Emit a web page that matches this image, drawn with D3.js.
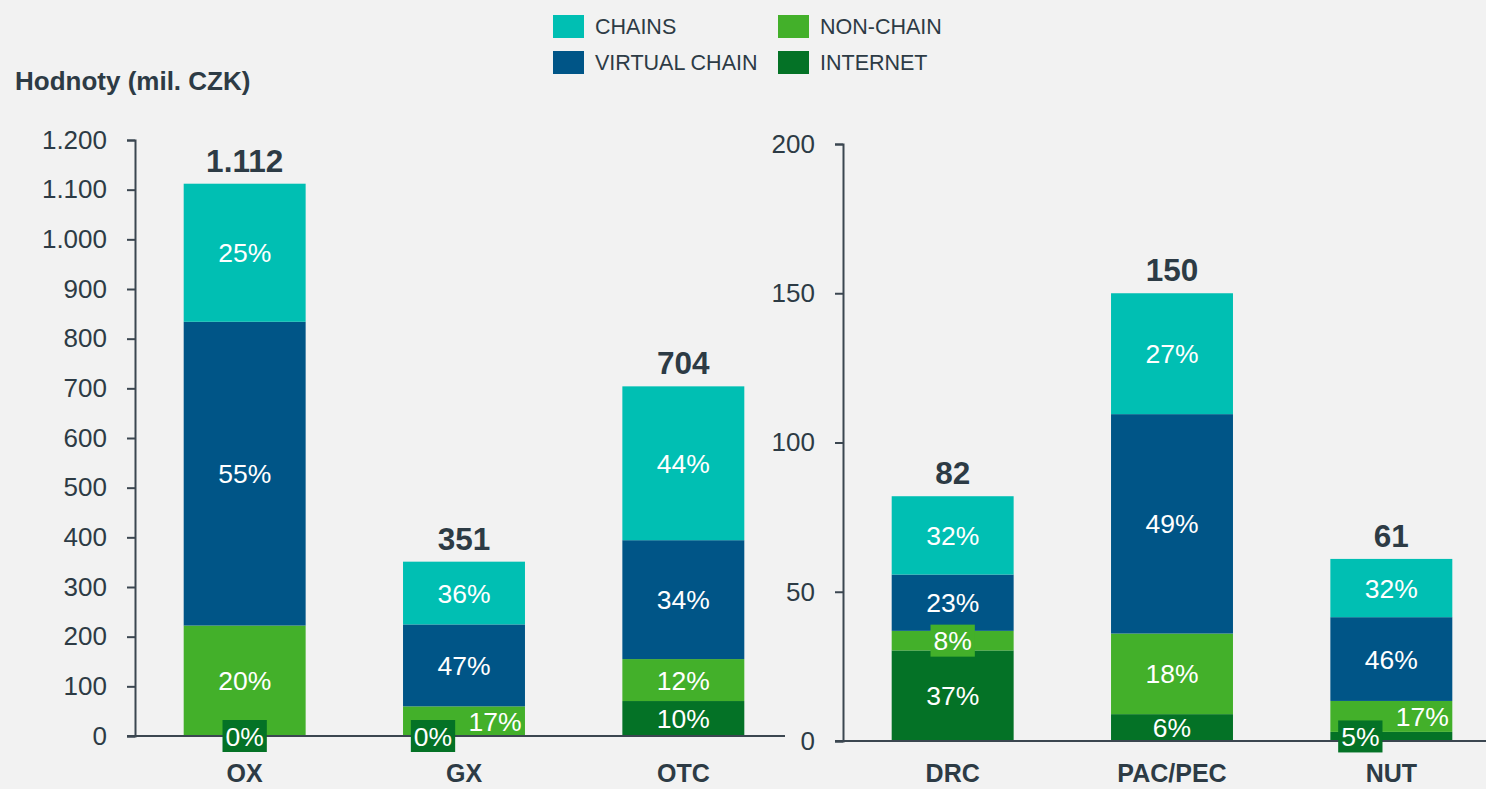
<!DOCTYPE html>
<html>
<head>
<meta charset="utf-8">
<script src="https://cdn.jsdelivr.net/npm/d3@7"></script>
<style>
  body { margin: 0; background: #f2f2f2; }
  svg { display: block; font-family: "Liberation Sans", Arial, sans-serif; }
</style>
</head>
<body>
<div id="chart"></div>
<script>
// categories of the two panels
var leftCats = ["OX", "GX", "OTC"];
var rightCats = ["DRC", "PAC/PEC", "NUT"];

// totals (mil. CZK)
var leftTotals = [1112, 351, 704];
var rightTotals = [82, 150, 61];

// shares in % per series, bottom to top
var internetShare = [0, 0, 10, 37, 6, 5];
var nonChainShare = [20, 17, 12, 8, 18, 17];
var virtualShare = [55, 47, 34, 23, 49, 46];
var chainsShare = [25, 36, 44, 32, 27, 32];

var leftTicks = [0, 100, 200, 300, 400, 500, 600, 700, 800, 900, 1000, 1100, 1200];
var rightTicks = [0, 50, 100, 150, 200];

var seriesKeys = ["internet", "nonchain", "virtual", "chains"];
var seriesNames = { chains: "CHAINS", virtual: "VIRTUAL CHAIN", nonchain: "NON-CHAIN", internet: "INTERNET" };
var colors = { chains: "#00bfb3", virtual: "#005587", nonchain: "#43b02a", internet: "#047226" };
var textColor = "#2d3b45";
var axisColor = "#3b4650";

const W = 1486, H = 789;
const svg = d3.select("#chart").append("svg").attr("width", W).attr("height", H);
svg.append("rect").attr("width", W).attr("height", H).attr("fill", "#f2f2f2");

var fmt = d3.formatLocale({ decimal: ",", thousands: ".", grouping: [3], currency: ["", ""] }).format(",");

function rows(cats, totals, offset) {
  return cats.map(function (c, i) {
    var j = i + offset;
    return {
      cat: c,
      total: totals[i],
      internet: totals[i] * internetShare[j] / 100,
      nonchain: totals[i] * nonChainShare[j] / 100,
      virtual: totals[i] * virtualShare[j] / 100,
      chains: totals[i] * chainsShare[j] / 100,
      share: { internet: internetShare[j], nonchain: nonChainShare[j], virtual: virtualShare[j], chains: chainsShare[j] }
    };
  });
}

function panel(opts) {
  var data = rows(opts.cats, opts.totals, opts.offset);
  var x = d3.scaleBand().domain(opts.cats).range(opts.xRange).padding(0);
  var y = d3.scaleLinear().domain([0, opts.max]).range(opts.yRange);
  var barW = x.bandwidth() * 0.556;
  var g = svg.append("g");

  // y axis
  var yAxis = g.append("g")
    .attr("transform", "translate(" + opts.xRange[0] + ",0)")
    .call(d3.axisLeft(y).tickValues(opts.ticks).tickSize(8).tickPadding(20).tickFormat(fmt));
  yAxis.select(".domain").attr("stroke", axisColor).attr("stroke-width", 2);
  yAxis.selectAll(".tick line").attr("stroke", axisColor).attr("stroke-width", 2);
  yAxis.selectAll(".tick text").attr("fill", textColor).style("font-size", "26px").style("font-family", "Liberation Sans, Arial, sans-serif");

  var stack = d3.stack().keys(seriesKeys)(data);

  stack.forEach(function (s) {
    g.selectAll(null).data(s).enter().append("rect")
      .attr("x", function (d) { return x(d.data.cat) + (x.bandwidth() - barW) / 2; })
      .attr("width", barW)
      .attr("y", function (d) { return y(d[1]); })
      .attr("height", function (d) { return y(d[0]) - y(d[1]); })
      .attr("fill", colors[s.key]);
  });

  // baseline
  g.append("line")
    .attr("x1", opts.xRange[0] - 8).attr("x2", opts.baseEnd)
    .attr("y1", y(0)).attr("y2", y(0))
    .attr("stroke", axisColor).attr("stroke-width", 2);

  // segment labels
  data.forEach(function (d, ci) {
    var segs = stack.map(function (s) {
      var v = s[ci];
      var top = y(v[1]), bot = y(v[0]);
      return { key: s.key, cy: (top + bot) / 2, h: bot - top, small: bot - top < 24, dx: 0 };
    });
    for (var i = 1; i < segs.length; i++) {
      if (Math.abs(segs[i].cy - segs[i - 1].cy) < 26 && (segs[i].small || segs[i - 1].small)) {
        segs[i - 1].dx = -31;
        segs[i].dx = 31;
      }
    }
    var cx = x(d.cat) + x.bandwidth() / 2;
    segs.forEach(function (s) {
      var lg = g.append("g").attr("transform", "translate(" + (cx + s.dx) + "," + s.cy + ")");
      var t = lg.append("text")
        .attr("text-anchor", "middle")
        .attr("dy", "0.36em")
        .attr("fill", "#ffffff")
        .style("font-size", "26.5px")
        .text(d.share[s.key] + "%");
      if (s.small) {
        var bb = t.node().getBBox();
        lg.insert("rect", "text")
          .attr("x", bb.x - 3).attr("y", -16)
          .attr("width", bb.width + 6).attr("height", 32)
          .attr("fill", colors[s.key]);
      }
    });

    // total
    g.append("text")
      .attr("x", cx).attr("y", y(d.total) - 12)
      .attr("text-anchor", "middle")
      .attr("fill", textColor)
      .style("font-size", "31.5px").style("font-weight", "bold")
      .text(fmt(d.total));

    // category label
    g.append("text")
      .attr("x", cx).attr("y", 782)
      .attr("text-anchor", "middle")
      .attr("fill", textColor)
      .style("font-size", "25px").style("font-weight", "bold")
      .text(d.cat);
  });
}

panel({ cats: leftCats, totals: leftTotals, offset: 0, max: 1200, ticks: leftTicks,
  xRange: [135, 793], yRange: [736, 140], baseEnd: 785 });
panel({ cats: rightCats, totals: rightTotals, offset: 3, max: 200, ticks: rightTicks,
  xRange: [843, 1501], yRange: [741, 144], baseEnd: 1486 });

// y title
svg.append("text")
  .attr("x", 15).attr("y", 90)
  .attr("fill", textColor)
  .style("font-size", "26px").style("font-weight", "bold")
  .text("Hodnoty (mil. CZK)");

// legend
var legendOrder = ["chains", "nonchain", "virtual", "internet"];
var legend = svg.append("g");
legendOrder.forEach(function (k, i) {
  var col = i % 2, row = Math.floor(i / 2);
  var lx = 553 + col * 225, ly = 15 + row * 36;
  legend.append("rect").attr("x", lx).attr("y", ly).attr("width", 31).attr("height", 23).attr("fill", colors[k]);
  legend.append("text").attr("x", lx + 42).attr("y", ly + 11.5).attr("dy", "0.36em")
    .attr("fill", textColor).style("font-size", "21.5px").text(seriesNames[k]);
});
</script>
</body>
</html>
